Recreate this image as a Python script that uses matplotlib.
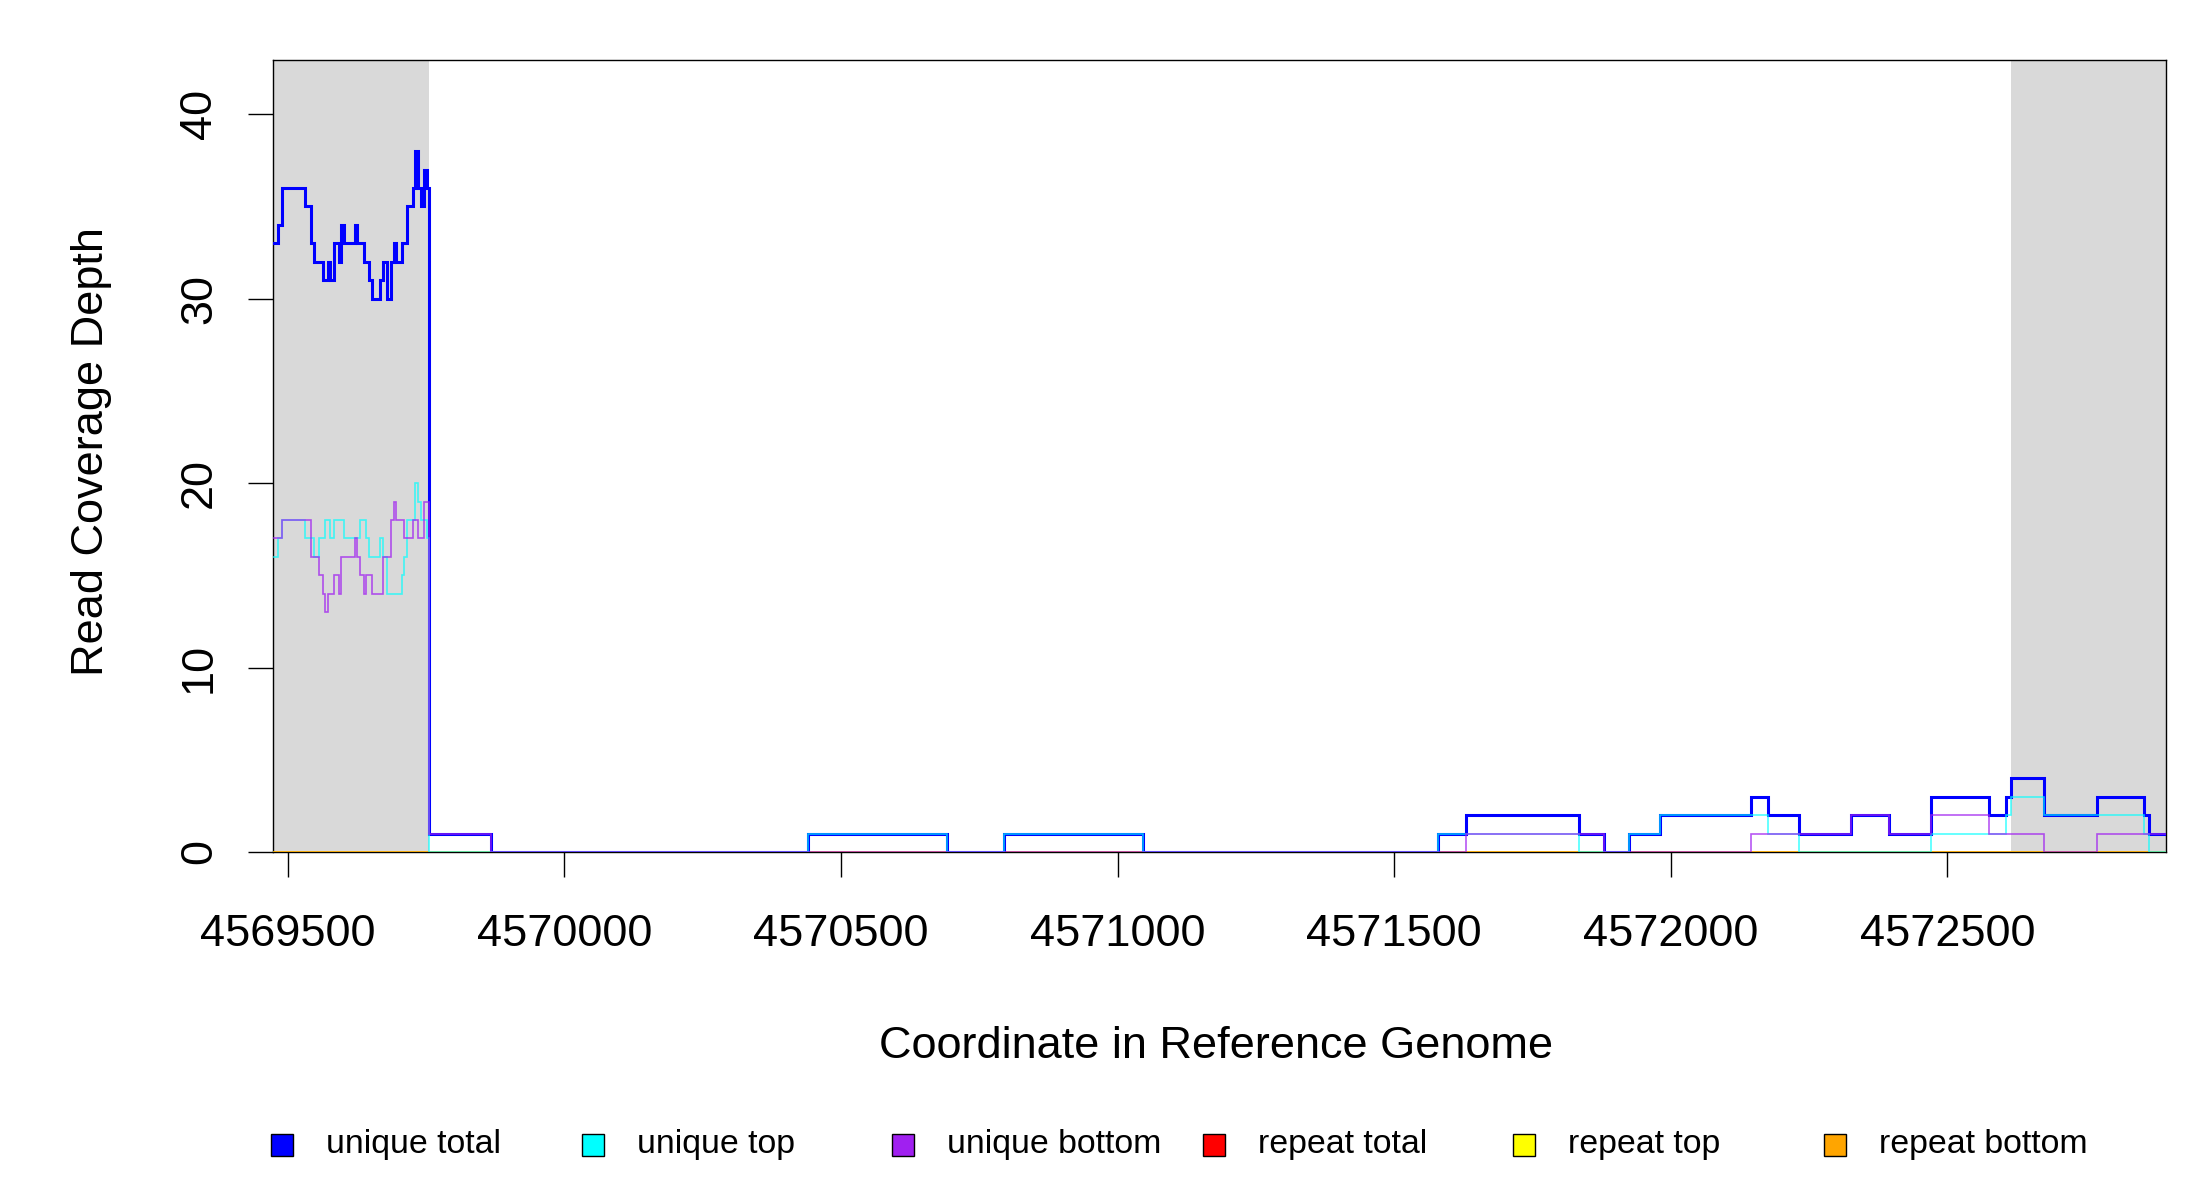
import matplotlib
matplotlib.use("Agg")
import matplotlib.pyplot as plt
from matplotlib.patches import Rectangle

plt.rcParams['font.family'] = ['Liberation Sans', 'DejaVu Sans']

# ---------------- data ----------------
x_start = 4569473
x_end = 4572895
flank_left = (4569473, 4569755)
flank_right = (4572615, 4572895)

x_ticks = [4569500, 4570000, 4570500, 4571000, 4571500, 4572000, 4572500]
y_ticks = [0, 10, 20, 30, 40]

# unique total: positions where coverage changes and new values
ut_pos = [4569473, 4569482, 4569489, 4569532, 4569542, 4569548, 4569563, 4569572,
          4569577, 4569583, 4569592, 4569596, 4569601, 4569621, 4569625, 4569637,
          4569646, 4569652, 4569667, 4569672, 4569679, 4569686, 4569692, 4569696,
          4569706, 4569716, 4569726, 4569730, 4569735, 4569741, 4569746, 4569751,
          4569755, 4569868, 4570440, 4570691, 4570794, 4571046, 4571580, 4571630,
          4571835, 4571880, 4571925, 4571980, 4572145, 4572175, 4572232, 4572325,
          4572395, 4572470, 4572575, 4572606, 4572615, 4572675, 4572770, 4572856,
          4572865]
ut_val = [33, 34, 36, 35, 33, 32, 31, 32,
          31, 33, 32, 34, 33, 34, 33, 32,
          31, 30, 31, 32, 30, 32, 33, 32,
          33, 35, 36, 38, 36, 35, 37, 36,
          1, 0, 1, 0, 1, 0, 1, 2,
          1, 0, 1, 2, 3, 2, 1, 2,
          1, 3, 2, 3, 4, 2, 3, 2,
          1]

# unique top
utop_pos = [4569473, 4569482, 4569489, 4569532, 4569548, 4569557, 4569568, 4569577,
            4569583, 4569601, 4569631, 4569642, 4569646, 4569667, 4569672, 4569679,
            4569706, 4569711, 4569716, 4569730, 4569735, 4569741, 4569751, 4569755,
            4570440, 4570691, 4570794, 4571046, 4571580, 4571835, 4571925, 4571980,
            4572175, 4572232, 4572470, 4572606, 4572615, 4572675, 4572856, 4572865]
utop_val = [16, 17, 18, 17, 16, 17, 18, 17,
            18, 17, 18, 17, 16, 17, 16, 14,
            15, 16, 18, 20, 19, 18, 17, 0,
            1, 0, 1, 0, 1, 0, 1, 2,
            1, 0, 1, 2, 3, 2, 1, 0]

# unique bottom
ubot_pos = [4569473, 4569489, 4569542, 4569557, 4569563, 4569568, 4569572, 4569583,
            4569592, 4569596, 4569621, 4569625, 4569631, 4569637, 4569642, 4569652,
            4569672, 4569686, 4569692, 4569696, 4569711, 4569726, 4569735, 4569746,
            4569755, 4569868, 4571630, 4571880, 4572145, 4572325, 4572395, 4572470,
            4572575, 4572675, 4572770]
ubot_val = [17, 18, 16, 15, 14, 13, 14, 15,
            14, 16, 17, 16, 15, 14, 15, 14,
            16, 18, 19, 18, 17, 18, 17, 19,
            1, 0, 1, 0, 1, 2, 1, 2,
            1, 0, 1]

# repeat coverage (zero everywhere)
rt_pos = [4569473]
rt_val = [0]
rtop_pos = [4569473]
rtop_val = [0]
rbot_pos = [4569473]
rbot_val = [0]

labels = ["unique total", "unique top", "unique bottom",
          "repeat total", "repeat top", "repeat bottom"]
colors = ["#0000FF", "#00FFFF", "#A020F0", "#FF0000", "#FFFF00", "#FFA500"]

# ---------------- plot ----------------
fig = plt.figure(figsize=(22, 12), dpi=100)
ax = fig.add_axes([0.124, 0.29, 0.8605, 0.66])

ax.axvspan(*flank_left, color="#D9D9D9", lw=0, zorder=0)
ax.axvspan(*flank_right, color="#D9D9D9", lw=0, zorder=0)


def stepline(pos, val, color, lw, alpha, z):
    xs = list(pos) + [x_end]
    ys = list(val) + [val[-1]]
    ax.step(xs, ys, where="post", color=color, lw=lw, alpha=alpha, zorder=z,
            solid_joinstyle="miter")


stepline(rt_pos, rt_val, colors[3], 1.1, 0.7, 2)
stepline(rtop_pos, rtop_val, colors[4], 1.1, 0.7, 3)
stepline(rbot_pos, rbot_val, colors[5], 1.1, 0.7, 4)
stepline(ut_pos, ut_val, colors[0], 2.2, 1.0, 5)
stepline(utop_pos, utop_val, colors[1], 1.2, 0.7, 6)
stepline(ubot_pos, ubot_val, colors[2], 1.2, 0.75, 7)

ax.set_xlim(x_start, x_end)
ax.set_ylim(0, 42.94)
ax.set_xticks(x_ticks)
ax.set_xticklabels([str(t) for t in x_ticks])
ax.set_yticks(y_ticks)
ax.set_yticklabels([str(t) for t in y_ticks], rotation=90, va="center")
ax.tick_params(axis="both", length=18, width=1.0, labelsize=32.5, color="black")
ax.tick_params(axis="x", pad=27)
ax.tick_params(axis="y", pad=20)
for s in ax.spines.values():
    s.set_linewidth(1.0)
    s.set_color("black")

fig.text(1216 / 2200, 1 - 1046 / 1200, "Coordinate in Reference Genome",
         ha="center", va="center", fontsize=32.5)
fig.text(92 / 2200, 1 - 452 / 1200, "Read Coverage Depth",
         ha="center", va="center", fontsize=32.5, rotation=90)

# legend
leg_y = 1 - 1145 / 1200
sq = 22
for i, (lab, col) in enumerate(zip(labels, colors)):
    cx = 282 + i * 310.6
    fig.add_artist(Rectangle(((cx - sq / 2) / 2200, leg_y - (sq / 2) / 1200),
                             sq / 2200, sq / 1200, transform=fig.transFigure,
                             facecolor=col, edgecolor="black", lw=1.0))
    fig.text((cx + 44) / 2200, leg_y, lab, ha="left", va="center", fontsize=24.4)

fig.savefig("out.png", dpi=100, facecolor="white")
